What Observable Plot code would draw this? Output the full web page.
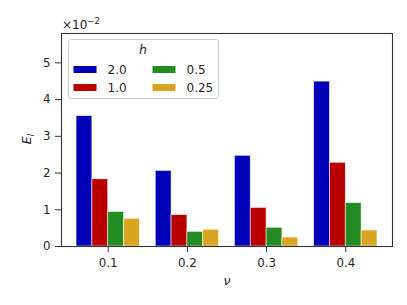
<!DOCTYPE html>
<html><head><meta charset="utf-8">
<script src="https://cdn.jsdelivr.net/npm/d3@7"></script>
<script src="https://cdn.jsdelivr.net/npm/@observablehq/plot@0.6"></script>
<style>
html,body{margin:0;padding:0;background:#fff;}
#chart{position:relative;width:407px;height:305px;}
</style></head>
<body><div id="chart"></div>
<script>
const nu = ["0.1", "0.2", "0.3", "0.4"];
const hLabels = ["2.0", "1.0", "0.5", "0.25"];
const E_h20 = [3.55, 2.06, 2.47, 4.49];
const E_h10 = [1.83, 0.855, 1.05, 2.28];
const E_h05 = [0.94, 0.40, 0.51, 1.18];
const E_h025 = [0.755, 0.455, 0.245, 0.436];
const yTicks = [0, 1, 2, 3, 4, 5];
const colors = ["#0000b8", "#b80000", "#228b22", "#daa520"];

const series = [E_h20, E_h10, E_h05, E_h025];
const rows = [];
series.forEach((vals, j) => vals.forEach((v, i) => {
  const x1 = i - 0.4 + 0.2 * j;
  rows.push({nu: nu[i], h: hLabels[j], v, x1, x2: x1 + 0.2});
}));

const font = "DejaVu Sans, sans-serif";
const ink = "#1f1f1f";
const plot = Plot.plot({
  width: 407, height: 305,
  marginLeft: 61, marginRight: 15, marginTop: 33, marginBottom: 59,
  style: {fontFamily: font, fontSize: "11.8px", color: ink, background: "white"},
  x: {domain: [-0.59, 3.59], label: null},
  y: {domain: [0, 5.8], label: null},
  color: {domain: hLabels, range: colors},
  marks: [
    Plot.rectY(rows, {x1: "x1", x2: "x2", y1: 0, y2: "v", fill: "h", stroke: "white", strokeWidth: 0.7, strokeOpacity: 0.8, inset: 0}),
    Plot.axisX({ticks: [0, 1, 2, 3], tickFormat: i => nu[i], tickSize: 6, tickPadding: 6, label: null, stroke: "#333"}),
    Plot.axisY({ticks: yTicks, tickFormat: d3.format("d"), tickSize: 6, tickPadding: 5, label: null, stroke: "#333"}),
    Plot.frame({stroke: "#333", strokeWidth: 1.1})
  ]
});
document.getElementById("chart").appendChild(plot);

const svg = d3.select(plot);
// y label
const yl = svg.append("text")
  .attr("transform", "translate(31,139) rotate(-90)")
  .attr("text-anchor", "middle")
  .attr("font-family", font).attr("font-size", 12.5).attr("fill", ink)
  .attr("font-style", "italic");
yl.append("tspan").text("E");
yl.append("tspan").attr("font-size", 8.5).attr("dy", 3).text("l");
// x label
svg.append("text").attr("x", 227).attr("y", 285).attr("text-anchor", "middle")
  .attr("font-family", font).attr("font-size", 12.5).attr("font-style", "italic")
  .attr("fill", ink).text("ν");
// offset text
const off = svg.append("text").attr("x", 62).attr("y", 29).attr("text-anchor", "start")
  .attr("font-family", font).attr("font-size", 12).attr("fill", ink);
off.append("tspan").text("×10");
off.append("tspan").attr("font-size", 8.5).attr("dy", -5.5).text("−2");

// legend
const lg = svg.append("g").attr("text-anchor", "start");
lg.append("rect").attr("x", 68.5).attr("y", 39.5).attr("width", 150).attr("height", 59)
  .attr("rx", 2.5).attr("fill", "white").attr("fill-opacity", 0.8)
  .attr("stroke", "#cccccc").attr("stroke-width", 1);
lg.append("text").attr("x", 143).attr("y", 53.5).attr("text-anchor", "middle")
  .attr("font-family", font).attr("font-size", 12.5).attr("font-style", "italic")
  .attr("fill", ink).text("h");
hLabels.forEach((h, j) => {
  const col = Math.floor(j / 2), row = j % 2;
  const sx = col === 0 ? 73.5 : 152.5;
  const cy = row === 0 ? 69.5 : 87.5;
  lg.append("rect").attr("x", sx).attr("y", cy - 3.5).attr("width", 23).attr("height", 7)
    .attr("fill", colors[j]);
  lg.append("text").attr("x", sx + 34).attr("y", cy + 4.3).attr("text-anchor", "start")
    .attr("font-family", font).attr("font-size", 12).attr("fill", ink).text(h);
});
</script></body></html>
